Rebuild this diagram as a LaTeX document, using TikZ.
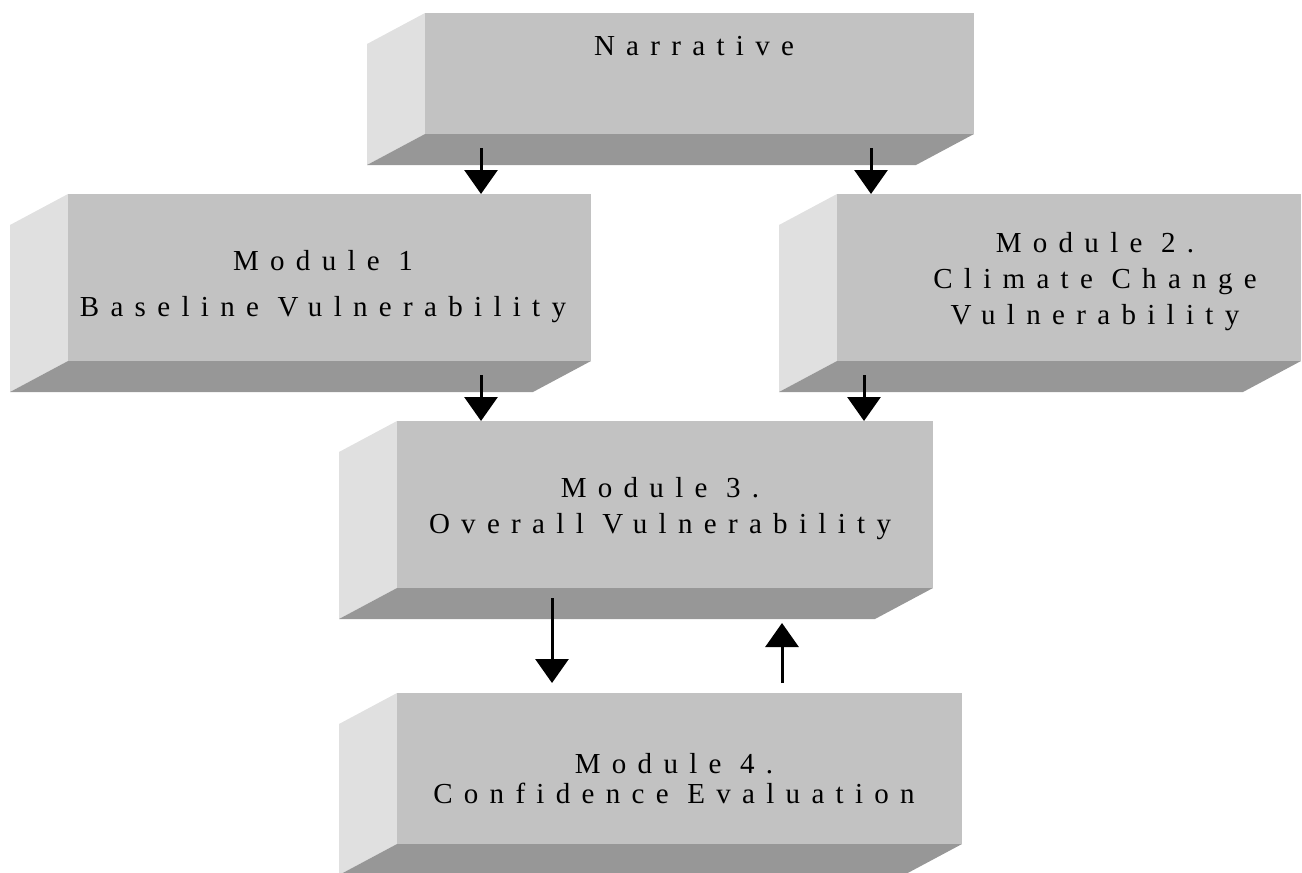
\documentclass[tikz,border=0pt]{standalone}
\usepackage{fontspec}
\usetikzlibrary{arrows.meta}
\newfontfamily\labfont{Liberation Serif}[LetterSpace=39]
\definecolor{frontgray}{RGB}{194,194,194}
\definecolor{leftgray}{RGB}{224,224,224}
\definecolor{botgray}{RGB}{151,151,151}
\newcommand\slabbox[5]{%
  \fill[leftgray] (#2,#3) -- ({#2-58},{#3+31}) -- ({#2-58},{#5+31}) -- (#2,#5) -- cycle;
  \fill[botgray] (#2,#5) -- (#4,#5) -- ({#4-58},{#5+31}) -- ({#2-58},{#5+31}) -- cycle;
  \node[face, minimum width={(#4-#2)*1pt}, minimum height={(#5-#3)*1pt}] (#1) at (#2,#3) {};
}
\tikzset{
  face/.style={fill=frontgray, draw=none, inner sep=0pt, outer sep=0pt, anchor=north west},
  lab/.style={align=center, inner sep=0pt, anchor=north, text=black},
  arr/.style={line width=3pt, -{Triangle[width=33pt,length=24pt]}},
}
\begin{document}
\begin{tikzpicture}[x=1pt,y=-1pt]
\useasboundingbox (0,0) rectangle (1302,873);
\begin{scope}
\clip (0,0) rectangle (1302,873);
\slabbox{narr}{425}{13}{974}{134}
\slabbox{mone}{68}{194}{591}{361}
\slabbox{mtwo}{837}{194}{1301}{361}
\slabbox{mthree}{397}{421}{933}{588}
\slabbox{mfour}{397}{693}{962}{844}
\end{scope}
% labels
\node[lab, font=\labfont\fontsize{29}{34}\selectfont] (tnarr) at (694,36) {Narrative};
\node[lab, font=\labfont\fontsize{29}{46}\selectfont] (tone) at (323,250) {Module 1\\Baseline Vulnerability};
\node[lab, font=\labfont\fontsize{29}{36}\selectfont] (ttwo) at (1095,232) {Module 2.\\Climate Change\\Vulnerability};
\node[lab, font=\labfont\fontsize{29}{36}\selectfont] (tthree) at (660,477) {Module 3.\\Overall Vulnerability};
\node[lab, font=\labfont\fontsize{29}{30}\selectfont] (tfour) at (674,753) {Module 4.\\Confidence Evaluation};
% connectors
\coordinate (a1s) at (481,148);
\coordinate (a2s) at (871,148);
\coordinate (a3s) at (481,375);
\coordinate (a4s) at (864,375);
\coordinate (a5s) at (552,598);
\coordinate (a5e) at (552,683);
\coordinate (a6s) at (782,683);
\coordinate (a6e) at (782,623);
\draw[arr] (a1s) -- (a1s |- mone.north);
\draw[arr] (a2s) -- (a2s |- mtwo.north);
\draw[arr] (a3s) -- (a3s |- mthree.north);
\draw[arr] (a4s) -- (a4s |- mthree.north);
\draw[arr] (a5s) -- (a5e);
\draw[arr] (a6s) -- (a6e);
\end{tikzpicture}
\end{document}
